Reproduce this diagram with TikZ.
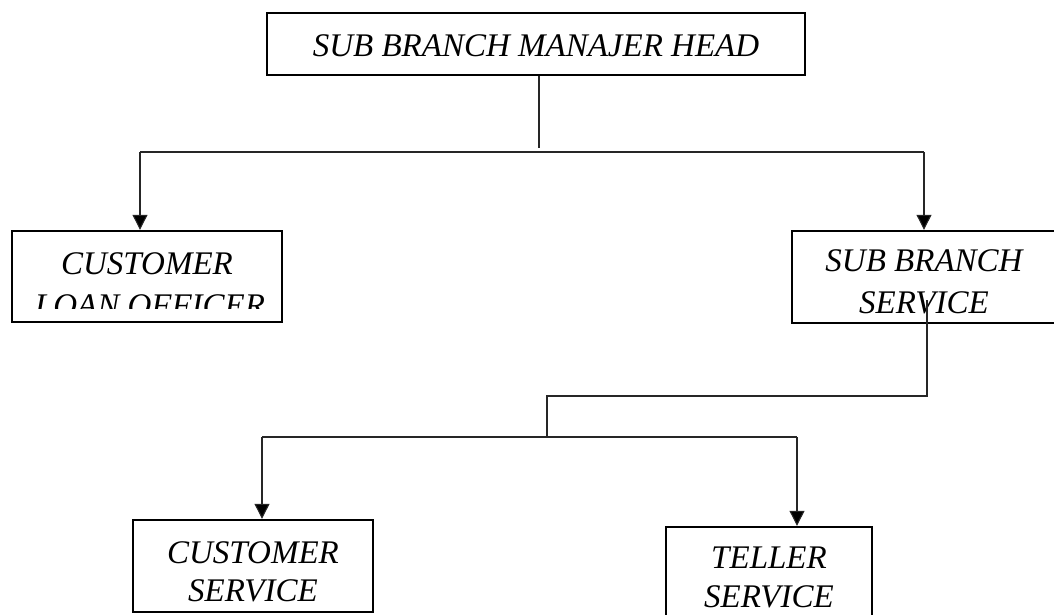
\documentclass[tikz,border=0pt]{standalone}
\usepackage{fontspec}
\setmainfont{Liberation Serif}
\usetikzlibrary{arrows.meta}
\begin{document}
\begin{tikzpicture}[x=1pt,y=-1pt,
  box/.style={draw=black, line width=2.4pt, inner sep=0pt, rectangle},
  lbl/.style={font=\fontsize{33}{40}\selectfont\itshape, anchor=base, inner sep=0pt},
  conn/.style={draw=black!85, line width=1.1pt},
  arr/.style={conn, -{Triangle[length=15pt,width=15pt,fill=black]}}]
\useasboundingbox (0,0) rectangle (1054,614);
\clip (0,0) rectangle (1054,614);
% boxes
\node[box, minimum width=538pt, minimum height=62pt] (head) at (536,44) {};
\node[box, minimum width=270pt, minimum height=91pt] (left) at (147,276.5) {};
\node[box, minimum width=264pt, minimum height=92pt] (right) at (924,277) {};
\node[box, minimum width=240pt, minimum height=92pt] (bl) at (253,566) {};
\node[box, minimum width=206pt, minimum height=97pt] (br) at (769,575.5) {};
% texts
\node[lbl] (headT) at (536,56) {SUB BRANCH MANAJER HEAD};
\node[lbl] (loT1) at (147,274) {CUSTOMER};
\begin{scope}
\clip (14,232) rectangle (280,308);
\node[lbl] (loT2) at (150,316) {LOAN OFFICER};
\end{scope}
\node[lbl] (sbT1) at (924,271) {SUB BRANCH};
\node[lbl] (sbT2) at (924,313) {SERVICE};
\node[lbl] (csT1) at (253,563) {CUSTOMER};
\node[lbl] (csT2) at (253,601) {SERVICE};
\node[lbl] (tsT1) at (769,568) {TELLER};
\node[lbl] (tsT2) at (769,607) {SERVICE};
% connectors
\coordinate (hb) at (539,148);
\coordinate (hL) at (140,152);
\coordinate (hR) at (924,152);
\draw[conn] (hb |- head.south) -- (hb);
\draw[conn] (hL) -- (hR);
\draw[arr] (hL) -- (hL |- left.north);
\draw[arr] (hR) -- (hR |- right.north);
\coordinate (s1) at (927,300);
\coordinate (s2) at (927,396);
\coordinate (s3) at (547,396);
\coordinate (s4) at (547,437);
\draw[conn] (s1) -- (s2) -- (s3) -- (s4);
\coordinate (bL) at (262,437);
\coordinate (bR) at (797,437);
\draw[conn] (bL) -- (bR);
\draw[arr] (bL) -- (bL |- bl.north);
\draw[arr] (bR) -- (bR |- br.north);
\end{tikzpicture}
\end{document}
